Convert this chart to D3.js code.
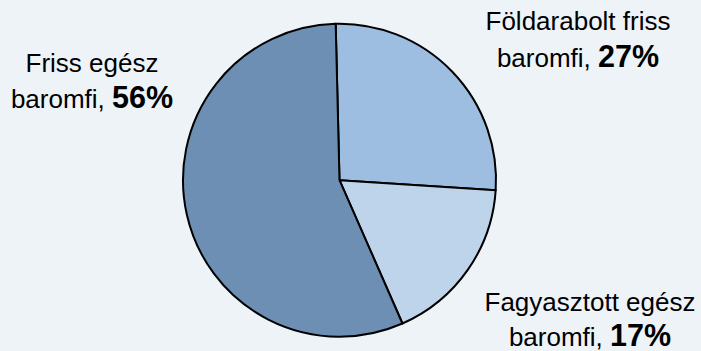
<!DOCTYPE html>
<html>
<head>
<meta charset="utf-8">
<script src="https://cdn.jsdelivr.net/npm/d3@7"></script>
<style>
  html, body { margin: 0; padding: 0; background: #eef3f8; }
  svg { display: block; }
</style>
</head>
<body>
<svg id="chart" width="701" height="351"></svg>
<script>
// Data
const categories = ["Földarabolt friss", "Fagyasztott egész", "Friss egész"];
const values = [26.4, 17.4, 56.2];
const pctLabels = ["27%", "17%", "56%"];
const colors = ["#9dbee1", "#bdd4eb", "#6d8fb4"];

// Layout
const W = 701, H = 351;
const cx = 339.5, cy = 180.2, r = 156.5;
const startDeg = -1.4;
const labelPos = [
  { x: 578, y1: 30, y2: 66.5 },
  { x: 590, y1: 310.5, y2: 346 },
  { x: 92, y1: 71.5, y2: 107.5 }
];

const svg = d3.select("#chart");
svg.append("rect").attr("width", W).attr("height", H).attr("fill", "#eef3f8");

const pie = d3.pie().sort(null).value(d => d.v)
  .startAngle(startDeg * Math.PI / 180)
  .endAngle(startDeg * Math.PI / 180 + 2 * Math.PI);
const data = categories.map((c, i) => ({ c, v: values[i], p: pctLabels[i], col: colors[i], i }));
const arcs = pie(data);
const arc = d3.arc().innerRadius(0).outerRadius(r);

const g = svg.append("g").attr("transform", `translate(${cx},${cy})`);
g.selectAll("path").data(arcs).join("path")
  .attr("d", arc)
  .attr("fill", d => d.data.col)
  .attr("stroke", "#000")
  .attr("stroke-width", 2)
  .attr("stroke-linejoin", "round");

const labels = svg.append("g")
  .attr("font-family", "Liberation Sans, Arial, sans-serif")
  .attr("font-size", 26)
  .attr("fill", "#000")
  .attr("text-anchor", "middle");

arcs.forEach((d, i) => {
  const lp = labelPos[i];
  const t = labels.append("text");
  t.append("tspan").attr("x", lp.x).attr("y", lp.y1).text(d.data.c);
  const t2 = t.append("tspan").attr("x", lp.x).attr("y", lp.y2);
  t2.append("tspan").text("baromfi, ");
  t2.append("tspan").attr("font-weight", "bold").attr("font-size", 30.5).text(d.data.p);
});
</script>
</body>
</html>
